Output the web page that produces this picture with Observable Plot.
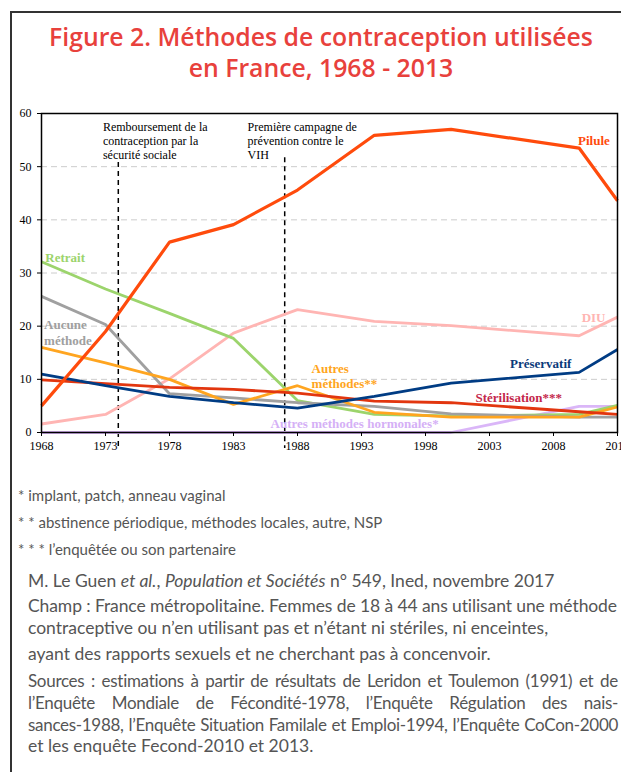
<!DOCTYPE html>
<html>
<head>
<meta charset="utf-8">
<script src="https://cdn.jsdelivr.net/npm/d3@7"></script>
<script src="https://cdn.jsdelivr.net/npm/@observablehq/plot@0.6"></script>
<style>
  html, body { margin: 0; padding: 0; background: #fff; }
  body { width: 621px; height: 772px; overflow: hidden; position: relative; font-family: Lato, "Open Sans", sans-serif; }
  #frame { position: absolute; left: 10px; top: 11px; width: 700px; height: 800px; border-left: 2px solid #333; border-top: 2px solid #333; }
  #title { position: absolute; left: 10px; width: 622px; top: 21px; text-align: center; color: #e8413c; font-family: "Open Sans", sans-serif; font-weight: 600; font-size: 24.8px; line-height: 31px; }
  #chart { position: absolute; left: 0; top: 100px; }
  .fn { position: absolute; left: 18px; font-size: 15px; color: #555; font-family: Lato, sans-serif; }
  .src { position: absolute; left: 28px; width: 590px; font-size: 17.5px; color: #555; font-family: Lato, sans-serif; white-space: nowrap; }
  .tight { letter-spacing: -0.1px; }
  .just { text-align: justify; text-align-last: justify; font-size: 17px; letter-spacing: -0.3px; }
</style>
</head>
<body>
<div id="frame"></div>
<div id="title">Figure 2. Méthodes de contraception utilisées<br>en France, 1968 - 2013</div>
<div id="chart"></div>
<div class="fn" style="top:486px">* implant, patch, anneau vaginal</div>
<div class="fn" style="top:513px">* * abstinence périodique, méthodes locales, autre, NSP</div>
<div class="fn" style="top:540px">* * * l’enquêtée ou son partenaire</div>
<div class="src" style="top:570px">M. Le Guen <i>et al.</i>, <i>Population et Sociétés</i> n° 549, Ined, novembre 2017</div>
<div class="src tight" style="top:595px">Champ : France métropolitaine. Femmes de 18 à 44 ans utilisant une méthode</div>
<div class="src" style="top:617px">contraceptive ou n’en utilisant pas et n’étant ni stériles, ni enceintes,</div>
<div class="src" style="top:643px">ayant des rapports sexuels et ne cherchant pas à concenvoir.</div>
<div class="src just" style="top:670px">Sources : estimations à partir de résultats de Leridon et Toulemon (1991) et de</div>
<div class="src just" style="top:692px">l’Enquête Mondiale de Fécondité-1978, l’Enquête Régulation des nais-</div>
<div class="src just" style="top:714px">sances-1988, l’Enquête Situation Familale et Emploi-1994, l’Enquête CoCon-2000</div>
<div class="src" style="top:735px">et les enquête Fecond-2010 et 2013.</div>
<script>
const years = [1968, 1973, 1978, 1983, 1988, 1994, 2000, 2010, 2013];
const series = ["DIU", "Autres méthodes hormonales", "Retrait", "Aucune méthode", "Autres méthodes", "Stérilisation", "Préservatif", "Pilule"];
const diu = [1.6, 3.4, 10.1, 18.7, 23.1, 20.9, 20.1, 18.2, 21.7];
const hormonales = [0, 0, 0, 0, 0, 0, 0, 4.9, 4.9];
const retrait = [32.1, 27.0, 22.4, 17.7, 6.0, 3.4, 3.1, 3.4, 5.1];
const aucune = [25.6, 20.3, 7.3, 6.5, 5.6, 4.9, 3.5, 2.9, 2.9];
const autres = [16.0, 13.1, 10.0, 5.3, 8.8, 3.8, 2.9, 2.9, 4.8];
const sterilisation = [9.9, 9.2, 8.5, 8.1, 7.4, 5.9, 5.6, 3.9, 3.4];
const preservatif = [11.0, 8.8, 6.8, 5.6, 4.6, 6.8, 9.3, 11.3, 15.6];
const pilule = [5.0, 19.0, 35.8, 39.1, 45.6, 55.9, 57.0, 53.5, 43.6];
const lineColors = ["#ffb5b3", "#dab6f8", "#9cd46c", "#a0a0a0", "#ffa520", "#e2360f", "#003c84", "#ff4b0c"];

const labelTexts = ["DIU", "Autres méthodes hormonales*", "Retrait", "Aucune\nméthode", "Autres\nméthodes**", "Stérilisation***", "Préservatif", "Pilule"];
const labelX = [2010.2, 1985.9, 1968.3, 1968.2, 1989.1, 2001.9, 2004.6, 2012.4];
const labelY = [21.8, 1.7, 33.1, 18.9, 10.7, 6.6, 13.0, 55.1];
const labelColors = ["#ffb5b3", "#d5b0f6", "#9cd46c", "#a0a0a0", "#ffa520", "#c4284c", "#0b3a7a", "#ff4b0c"];
const labelAnchors = ["start", "start", "start", "start", "start", "start", "start", "end"];

const eventYears = [1974, 1987];
const eventTexts = ["Remboursement de la\ncontraception par la\nsécurité sociale", "Première campagne de\nprévention contre le\nVIH"];
const eventTextX = [1972.8, 1984.1];
const eventTop = [50.8, 51.7];

const yTicks = [0, 10, 20, 30, 40, 50, 60];
const xTicks = [1968, 1973, 1978, 1983, 1988, 1993, 1998, 2003, 2008, 2013];

const valuesBySeries = [diu, hormonales, retrait, aucune, autres, sterilisation, preservatif, pilule];
const rows = series.flatMap((s, i) => years.map((y, j) => ({series: s, year: y, value: valuesBySeries[i][j]})));
const labels = labelTexts.map((t, i) => ({text: t, x: labelX[i], y: labelY[i], color: labelColors[i], anchor: labelAnchors[i]}));
const events = eventYears.map((y, i) => ({year: y, text: eventTexts[i], tx: eventTextX[i], top: eventTop[i]}));

const labelOpts = {x: "x", y: "y", text: "text", fill: "color", lineAnchor: "middle", lineHeight: 1.2, fontWeight: "bold", fontSize: 13};

const chart = Plot.plot({
  width: 621,
  height: 360,
  marginLeft: 41,
  marginRight: 4,
  marginTop: 13,
  marginBottom: 28,
  style: {fontFamily: "'Liberation Serif', 'Times New Roman', serif", fontSize: "12px", color: "#000", background: "transparent", overflow: "visible"},
  x: {domain: [1968, 2013], ticks: xTicks, tickFormat: d => String(d), tickSize: 4, tickPadding: 5, label: null},
  y: {domain: [0, 60], ticks: yTicks, tickSize: 4, tickPadding: 6, label: null},
  color: {domain: series, range: lineColors},
  marks: [
    Plot.gridY([10, 20, 30, 40, 50], {stroke: "#cccccc", strokeOpacity: 1, strokeDasharray: "6,4", strokeWidth: 1}),
    Plot.ruleX(events, {x: "year", y1: "top", y2: -3, stroke: "#000", strokeWidth: 1.5, strokeDasharray: "5,4"}),
    Plot.text(events, {x: "tx", y: 54.9, text: "text", textAnchor: "start", lineAnchor: "middle", lineHeight: 1.17, fill: "#000", fontSize: 12}),
    Plot.line(rows, {x: "year", y: "value", z: "series", stroke: "series", strokeWidth: d => d.series === "Pilule" ? 3.2 : 2.8, strokeLinejoin: "miter", strokeLinecap: "butt"}),
    Plot.frame({stroke: "#000", strokeWidth: 1.5}),
    Plot.axisX({ticks: xTicks, tickFormat: d => String(d), tickSize: 4, tickPadding: 5, fontSize: 12}),
    Plot.axisY({ticks: yTicks, tickSize: 4, tickPadding: 6, fontSize: 12}),
    Plot.text(labels.filter(d => d.anchor === "start"), {...labelOpts, textAnchor: "start"}),
    Plot.text(labels.filter(d => d.anchor === "end"), {...labelOpts, textAnchor: "end"})
  ]
});
document.getElementById("chart").appendChild(chart);
</script>
</body>
</html>
